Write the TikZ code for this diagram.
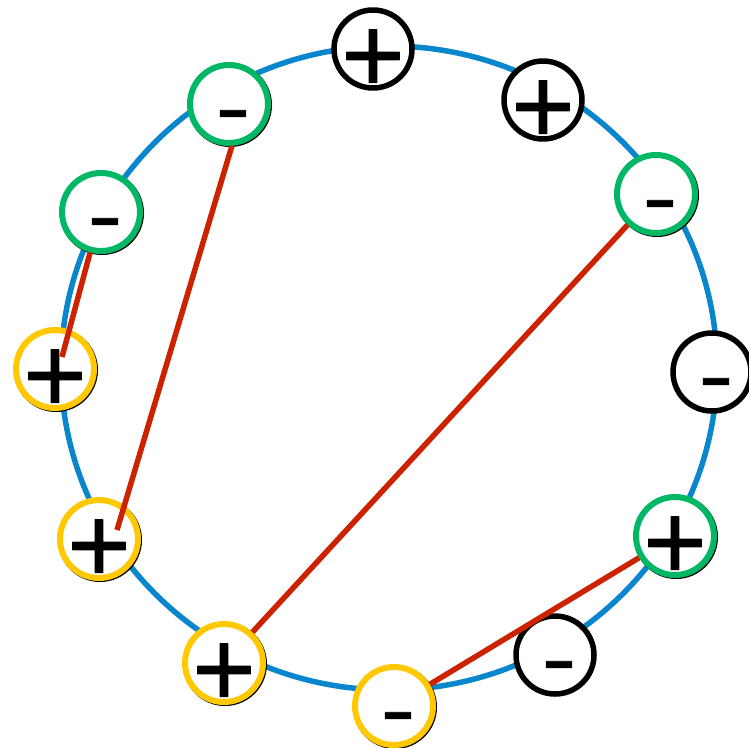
\documentclass[tikz,border=0pt]{standalone}
\usepackage{fontspec}
\usepackage{graphicx}
\usepackage{xcolor}
\usepackage{tikz}
\usetikzlibrary{calc}
\newfontfamily\signfont{Liberation Sans}[FakeBold=1]
\definecolor{ringblue}{HTML}{0A86CC}
\definecolor{ringgreen}{HTML}{00B765}
\definecolor{ringyellow}{HTML}{FFC800}
\definecolor{linkred}{HTML}{CC2200}
\newcommand\chgplus{\smash{\raisebox{-43pt}{+}}}
\newcommand\chgminus{\hspace*{8pt}\smash{\raisebox{-31pt}{\scalebox{0.95}[0.75]{-}}}}

\begin{document}
\begin{tikzpicture}[x=1pt,y=-1pt,line join=round,
  chg/.style={circle,fill=white,draw=black,line width=5.5pt,minimum size=78pt,inner sep=0pt,
    font=\signfont\fontsize{108pt}{108pt}\selectfont},
  grn/.style={chg,draw=ringgreen,line width=6pt,
    preaction={draw=black,line width=6pt,transform canvas={shift={(1pt,-1pt)}}}},
  ylw/.style={chg,draw=ringyellow,line width=6pt,
    preaction={draw=black,line width=6pt,transform canvas={shift={(1pt,-1pt)}}}},
  link/.style={draw=linkred,line width=5.5pt}]
  \useasboundingbox (0,0) rectangle (749,747);
  \draw[ringblue,line width=5.5pt] (389,368) ellipse [x radius=328,y radius=322];
  % charges round the ring
  \node[chg] (C1) at (373,49) {\chgplus};
  \node[chg] (C2) at (543,100) {\chgplus};
  \node[grn] (C3) at (656,194) {\chgminus};
  \node[chg] (C4) at (712,372) {\chgminus};
  \node[grn] (C5) at (675,536) {\chgplus};
  \node[chg] (C6) at (555,655) {\chgminus};
  \node[ylw] (C7) at (394,706) {\chgminus};
  \node[ylw] (C8) at (224,663) {\chgplus};
  \node[ylw] (C9) at (99,539) {\chgplus};
  \node[ylw] (C10) at (55,369) {\chgplus};
  \node[grn] (C11) at (101,212) {\chgminus};
  \node[grn] (C12) at (229,104) {\chgminus};
  % pairings
  \draw[link] (C11) -- ([shift={(7,-12)}]C10.center);
  \draw[link] (C12.-86) -- ([shift={(18,-9)}]C9.center);
  \draw[link] (C3) -- (C8);
  \draw[link] (C5) -- (C7);
\end{tikzpicture}
\end{document}
